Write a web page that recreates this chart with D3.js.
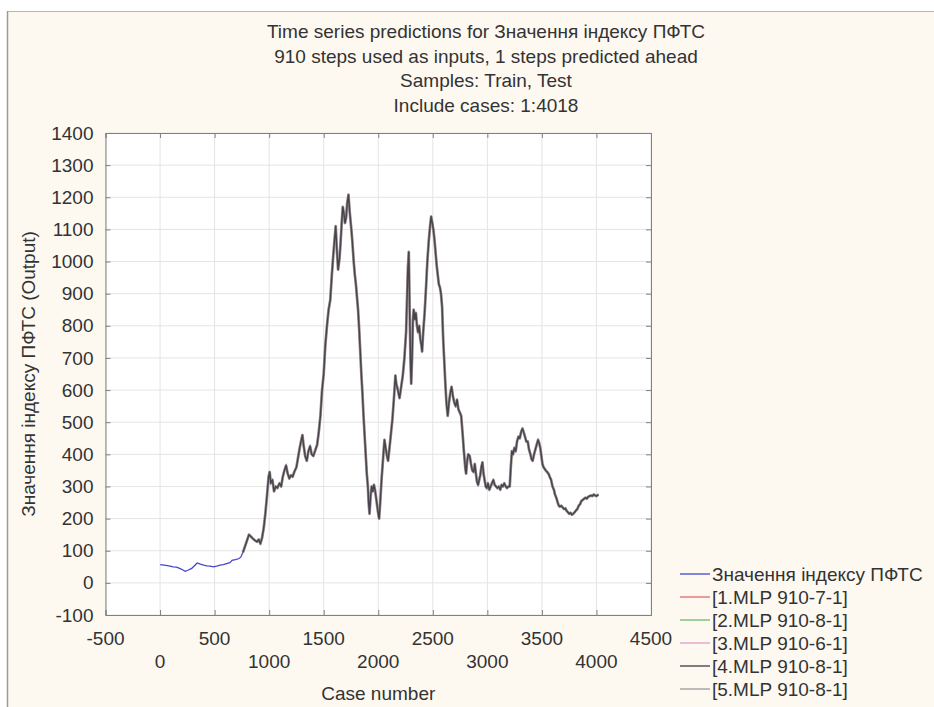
<!DOCTYPE html>
<html><head><meta charset="utf-8">
<script src="https://cdn.jsdelivr.net/npm/d3@7"></script>
<style>
body{margin:0;background:#fff}
svg{display:block}
text{font-family:"Liberation Sans",Arial,sans-serif;fill:#333}
</style>
</head><body>
<svg id="chart" width="934" height="707"></svg>
<script>
const titleLines = [
  "Time series predictions for Значення індексу ПФТС",
  "910 steps used as inputs, 1 steps predicted ahead",
  "Samples: Train, Test",
  "Include cases: 1:4018"
];
const xLabel = "Case number";
const yLabel = "Значення індексу ПФТС (Output)";
const xTicks = [-500,0,500,1000,1500,2000,2500,3000,3500,4000,4500];
const yTicks = [-100,0,100,200,300,400,500,600,700,800,900,1000,1100,1200,1300,1400];
const seriesNames = ["Значення індексу ПФТС","[1.MLP 910-7-1]","[2.MLP 910-8-1]","[3.MLP 910-6-1]","[4.MLP 910-8-1]","[5.MLP 910-8-1]"];
const seriesColors = ["#4444d0","#e06a6a","#6cb86c","#e59ac6","#3e3a44","#9a9a9a"];

const caseNo = [1,40,80,120,150,180,210,230,260,290,320,340,370,400,430,460,490,520,550,580,610,640,660,690,720,740,
760,780,800,815,830,850,870,890,905,920,935,950,965,980,995,1005,1015,1030,1045,1060,1075,1095,1110,1125,1140,1155,1170,1185,1200,1215,1230,1250,1265,1280,1295,1305,1315,1330,1345,1360,1375,1390,1405,1420,1440,1455,1470,1485,1500,1515,1530,1545,1560,1575,1590,1600,1610,1620,1632,1645,1655,1665,1675,1685,1695,1705,1715,1727,1737,1745,1755,1765,1775,1785,1795,1805,1815,1825,1835,1845,1855,1865,1875,1885,1895,1905,1912,1920,1930,1940,1950,1960,1970,1980,1990,2000,2008,2018,2030,2045,2057,2068,2080,2090,2100,2115,2130,2145,2157,2165,2180,2195,2210,2225,2240,2255,2265,2272,2280,2288,2295,2302,2310,2318,2325,2335,2345,2355,2365,2375,2385,2395,2402,2412,2425,2438,2450,2462,2475,2485,2495,2505,2515,2525,2535,2545,2555,2565,2575,2585,2595,2605,2615,2625,2637,2648,2660,2672,2685,2698,2710,2722,2735,2748,2760,2772,2785,2797,2805,2815,2825,2838,2850,2862,2875,2885,2895,2905,2915,2925,2935,2945,2955,2965,2975,2985,2995,3005,3018,3030,3042,3055,3067,3080,3092,3105,3118,3130,3142,3155,3168,3180,3192,3205,3215,3225,3235,3248,3260,3272,3285,3297,3310,3322,3332,3345,3357,3370,3382,3395,3405,3415,3428,3440,3452,3465,3475,3485,3495,3505,3515,3525,3535,3548,3560,3572,3585,3597,3610,3620,3632,3645,3655,3665,3678,3690,3702,3715,3725,3738,3750,3762,3775,3787,3800,3812,3825,3837,3850,3862,3875,3887,3900,3912,3925,3937,3950,3962,3975,3987,4000,4018];
const indexValue = [57,55,53,50,49,45,40,36,40,45,55,62,58,55,53,52,50,52,55,57,60,63,70,72,75,80,
95,115,135,150,145,138,132,128,135,122,140,170,215,270,330,345,310,320,285,300,295,310,300,330,350,365,340,325,335,330,345,360,390,420,445,460,430,395,380,410,425,400,395,410,430,470,520,600,650,740,800,850,880,960,1030,1070,1110,1040,975,1010,1060,1120,1170,1150,1120,1135,1180,1208,1160,1130,1095,1050,1000,960,930,890,850,790,720,650,590,520,460,400,340,300,250,215,270,300,285,305,290,265,240,215,200,250,320,390,445,420,395,380,410,460,510,580,645,620,600,575,610,645,700,780,900,980,1030,850,700,620,700,820,850,820,840,800,780,800,760,740,720,780,840,920,1000,1060,1110,1140,1120,1100,1070,1030,990,960,930,920,900,860,760,690,620,560,520,560,590,610,580,560,550,570,540,530,520,470,410,360,340,380,400,395,370,350,345,370,340,315,305,320,335,360,375,340,320,300,295,310,290,300,310,320,305,300,295,300,290,305,300,310,300,295,300,300,360,410,400,420,410,440,455,450,470,480,470,455,440,440,415,400,385,380,400,415,430,445,435,420,395,370,360,355,350,345,340,330,320,300,290,275,265,250,240,237,240,235,230,232,225,220,215,218,212,215,220,225,230,240,245,255,258,262,265,262,268,270,272,270,275,272,270,275];

// predictions track the target closely; first predicted case visible in the picture
const predictionStart = 760;

const svg = d3.select("#chart");
const W = 934, H = 707;
const plot = {left:105.5, right:651, top:133, bottom:615};

// background frame
svg.append("rect").attr("x",0).attr("y",0).attr("width",W).attr("height",H).attr("fill","#ffffff");
svg.append("rect").attr("x",7).attr("y",11).attr("width",W-7).attr("height",H-11).attr("fill","#fdf9f1");
svg.append("line").attr("x1",7).attr("x2",W).attr("y1",11.5).attr("y2",11.5).attr("stroke","#b8b4ae");
svg.append("line").attr("x1",7.5).attr("x2",7.5).attr("y1",11).attr("y2",H).attr("stroke","#9e9a94").attr("stroke-width",1.5);

const x = d3.scaleLinear().domain([-500,4500]).range([plot.left,plot.right]);
const y = d3.scaleLinear().domain([-100,1400]).range([plot.bottom,plot.top]);

svg.append("rect").attr("x",plot.left).attr("y",plot.top)
  .attr("width",plot.right-plot.left).attr("height",plot.bottom-plot.top).attr("fill","#fff");

// grid
const g = svg.append("g");
g.selectAll(".gx").data(xTicks).join("line")
  .attr("x1",d=>x(d)).attr("x2",d=>x(d)).attr("y1",plot.top).attr("y2",plot.bottom)
  .attr("stroke","#e4e4e4");
g.selectAll(".gy").data(yTicks).join("line")
  .attr("y1",d=>y(d)).attr("y2",d=>y(d)).attr("x1",plot.left).attr("x2",plot.right)
  .attr("stroke","#e4e4e4");

// axes with inward ticks
const axL = d3.axisLeft(y).tickValues(yTicks).tickSize(-5).tickPadding(12).tickFormat(d=>String(d));
const axR = d3.axisRight(y).tickValues(yTicks).tickSize(-5).tickFormat("");
const axB = d3.axisBottom(x).tickValues(xTicks).tickSize(-5).tickFormat("");
const axT = d3.axisTop(x).tickValues(xTicks).tickSize(-5).tickFormat("");
function styleAxis(sel){
  sel.select(".domain").attr("stroke","#808080");
  sel.selectAll(".tick line").attr("stroke","#808080");
  sel.selectAll("text").attr("font-size",19).attr("fill","#333").attr("font-family",'"Liberation Sans",Arial,sans-serif');
}
svg.append("g").attr("transform",`translate(${plot.left},0)`).call(axL).call(styleAxis);
svg.append("g").attr("transform",`translate(${plot.right},0)`).call(axR).call(styleAxis);
svg.append("g").attr("transform",`translate(0,${plot.bottom})`).call(axB).call(styleAxis);
svg.append("g").attr("transform",`translate(0,${plot.top})`).call(axT).call(styleAxis);

// staggered x labels
svg.append("g").selectAll("text").data(xTicks).join("text")
  .attr("x",d=>x(d)).attr("y",(d,i)=> i%2===0 ? 645 : 668)
  .attr("text-anchor","middle").attr("font-size",19).text(d=>String(d));

// titles
svg.append("g").selectAll("text").data(titleLines).join("text")
  .attr("x",486).attr("y",(d,i)=>38+i*24.5).attr("text-anchor","middle")
  .attr("font-size",19).text(d=>d);
svg.append("text").attr("x",(plot.left+plot.right)/2).attr("y",700)
  .attr("text-anchor","middle").attr("font-size",19).text(xLabel);
svg.append("text").attr("transform",`translate(35,${(plot.top+plot.bottom)/2}) rotate(-90)`)
  .attr("text-anchor","middle").attr("font-size",19).text(yLabel);

// data
const observed = caseNo.map((c,i)=>({c, v:indexValue[i]}));
const predicted = observed.filter(d=>d.c>=predictionStart);
const line = d3.line().x(d=>x(d.c)).y(d=>y(d.v));
svg.append("clipPath").attr("id","clp").append("rect")
  .attr("x",plot.left).attr("y",plot.top).attr("width",plot.right-plot.left).attr("height",plot.bottom-plot.top);
const lines = svg.append("g").attr("clip-path","url(#clp)");
lines.append("path").datum(observed).attr("d",line).attr("fill","none")
  .attr("stroke",seriesColors[0]).attr("stroke-width",1.3);
const modelStyle = [
  {i:1, w:2.4, o:0.5},
  {i:2, w:2.2, o:0.4},
  {i:3, w:2.0, o:0.5},
  {i:5, w:2.8, o:0.8},
  {i:4, w:1.5, o:0.9}
];
modelStyle.forEach(m=>{
  lines.append("path").datum(predicted).attr("d",line).attr("fill","none")
    .attr("stroke",seriesColors[m.i]).attr("stroke-width",m.w).attr("stroke-opacity",m.o)
    .attr("stroke-linejoin","round");
});

// legend
const leg = svg.append("g").selectAll("g").data(seriesNames).join("g")
  .attr("transform",(d,i)=>`translate(0,${574+i*23})`);
leg.append("line").attr("x1",680).attr("x2",710).attr("y1",0).attr("y2",0)
  .attr("stroke",(d,i)=>seriesColors[i]).attr("stroke-width",1.3);
leg.append("text").attr("x",712).attr("y",7).attr("font-size",19).text(d=>d);
</script>
</body></html>
